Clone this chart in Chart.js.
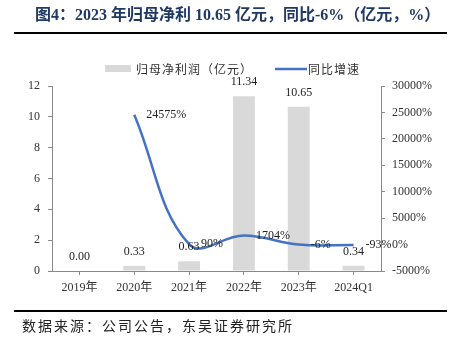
<!DOCTYPE html>
<html>
<head>
<meta charset="utf-8">
<script src="https://cdn.jsdelivr.net/npm/chart.js@4.4.1/dist/chart.umd.min.js"></script>
<style>
html,body{margin:0;padding:0;background:#fff;}
#wrap{width:451px;height:339px;position:relative;}
</style>
</head>
<body>
<div id="wrap"><canvas id="c" width="451" height="339"></canvas></div>
<script>
const categories = ['2019年', '2020年', '2021年', '2022年', '2023年', '2024Q1'];
const profit = [0.00, 0.33, 0.63, 11.34, 10.65, 0.34];
const growth = [null, 24575, 90, 1704, -6, -93];
const profitLabels = ['0.00', '0.33', '0.63', '11.34', '10.65', '0.34'];
const growthLabels = ['', '24575%', '90%', '1704%', '-6%', '-93%'];
const seriesNames = ['归母净利润（亿元）', '同比增速'];
const titleText = '图4：2023 年归母净利 10.65 亿元，同比-6%（亿元，%）';
const sourceText = '数据来源：公司公告，东吴证券研究所';

const SERIF = '"Liberation Serif", "Noto Sans CJK SC", serif';
const CJK = '"Noto Sans CJK SC", "Liberation Serif", sans-serif';
const BAR_COLOR = '#D9D9D9';
const LINE_COLOR = '#4472C4';
const AXIS_COLOR = '#898989';

const decor = {
  id: 'decor',
  afterDraw(chart) {
    const ctx = chart.ctx;
    ctx.save();
    // title
    ctx.fillStyle = '#1F3864';
    ctx.font = 'bold 16px ' + SERIF;
    ctx.textBaseline = 'middle';
    ctx.textAlign = 'left';
    ctx.fillText(titleText, 35, 16);
    // rules
    ctx.strokeStyle = '#000';
    ctx.lineWidth = 2;
    ctx.beginPath(); ctx.moveTo(14, 33); ctx.lineTo(447, 33); ctx.stroke();
    ctx.beginPath(); ctx.moveTo(14, 311); ctx.lineTo(447, 311); ctx.stroke();
    // source
    ctx.fillStyle = '#222';
    ctx.font = '14px ' + CJK;
    ctx.letterSpacing = '2px';
    ctx.fillText(sourceText, 22, 326);
    ctx.letterSpacing = '0px';
    // legend
    ctx.fillStyle = BAR_COLOR;
    ctx.fillRect(105, 65, 26, 7);
    ctx.fillStyle = '#333';
    ctx.font = '12px ' + CJK;
    ctx.letterSpacing = '1px';
    ctx.fillText(seriesNames[0], 136, 69);
    ctx.strokeStyle = LINE_COLOR;
    ctx.lineWidth = 2.5;
    ctx.beginPath(); ctx.moveTo(275, 69); ctx.lineTo(307, 69); ctx.stroke();
    ctx.fillText(seriesNames[1], 308, 69);
    ctx.letterSpacing = '0px';
    ctx.restore();
  }
};

const valueLabels = {
  id: 'valueLabels',
  afterDatasetsDraw(chart) {
    const ctx = chart.ctx;
    ctx.save();
    ctx.fillStyle = '#222';
    ctx.font = '12px ' + SERIF;
    ctx.textBaseline = 'middle';
    const barMeta = chart.getDatasetMeta(0);
    ctx.textAlign = 'center';
    barMeta.data.forEach((el, i) => {
      ctx.fillText(profitLabels[i], el.x, el.y - 14);
    });
    const lineMeta = chart.getDatasetMeta(1);
    ctx.textAlign = 'left';
    lineMeta.data.forEach((el, i) => {
      if (growth[i] === null) return;
      ctx.fillText(growthLabels[i], el.x + 12, el.y);
    });
    ctx.restore();
  }
};

new Chart(document.getElementById('c'), {
  type: 'bar',
  data: {
    labels: categories,
    datasets: [
      {
        type: 'bar',
        label: seriesNames[0],
        data: profit,
        backgroundColor: BAR_COLOR,
        barPercentage: 0.8,
        categoryPercentage: 0.5,
        yAxisID: 'y',
        order: 1
      },
      {
        type: 'line',
        label: seriesNames[1],
        data: growth,
        borderColor: LINE_COLOR,
        backgroundColor: LINE_COLOR,
        borderWidth: 2.5,
        pointRadius: 0,
        tension: 0.4,
        spanGaps: false,
        yAxisID: 'y1',
        order: 0
      }
    ]
  },
  options: {
    responsive: false,
    animation: false,
    events: [],
    layout: { padding: { top: 86, left: 0, right: 0, bottom: 0 } },
    plugins: { legend: { display: false }, title: { display: false }, tooltip: { enabled: false } },
    scales: {
      x: {
        offset: true,
        grid: { display: true, drawOnChartArea: false, offset: false, tickLength: 4, color: AXIS_COLOR },
        border: { display: true, color: AXIS_COLOR },
        ticks: { font: { family: SERIF, size: 12 }, color: '#333', padding: 6, maxRotation: 0 },
        afterFit(s) { s.height = 68; }
      },
      y: {
        position: 'left',
        min: 0, max: 12,
        grid: { display: true, drawOnChartArea: false, tickLength: 4, color: AXIS_COLOR },
        border: { display: true, color: AXIS_COLOR },
        ticks: { stepSize: 2, font: { family: SERIF, size: 12 }, color: '#333', padding: 8 },
        afterFit(s) { s.width = 52; }
      },
      y1: {
        position: 'right',
        min: -5000, max: 30000,
        grid: { display: true, drawOnChartArea: false, tickLength: 4, color: AXIS_COLOR },
        border: { display: true, color: AXIS_COLOR },
        ticks: { stepSize: 5000, font: { family: SERIF, size: 12 }, color: '#333', padding: 7,
          callback: v => v + '%' },
        afterFit(s) { s.width = 70; }
      }
    }
  },
  plugins: [valueLabels, decor]
});
</script>
</body>
</html>
